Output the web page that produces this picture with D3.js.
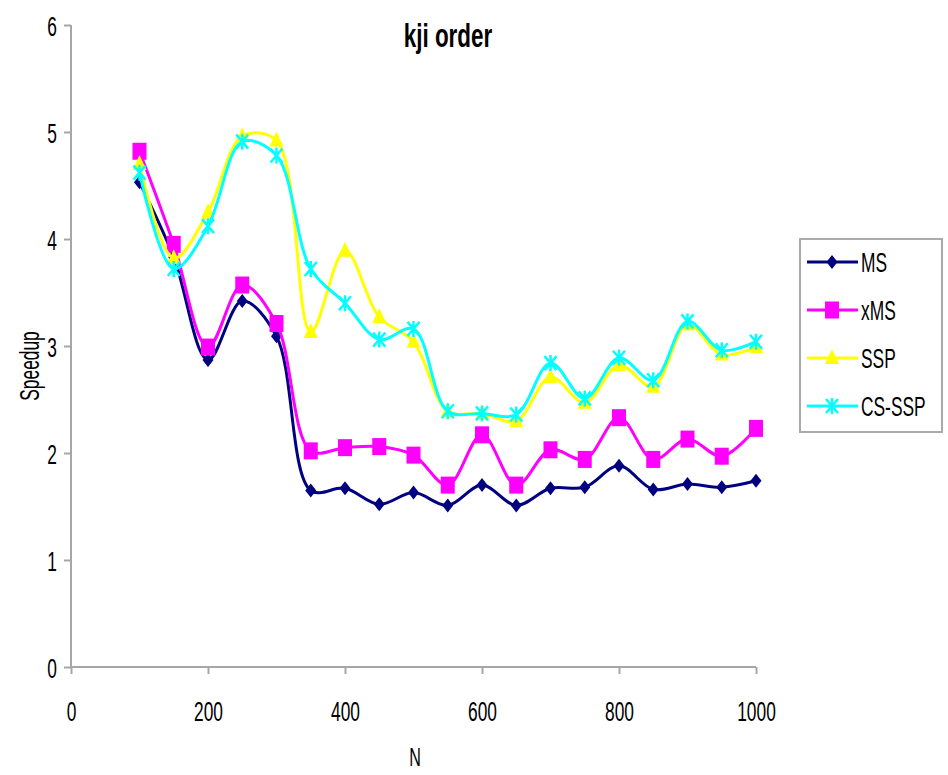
<!DOCTYPE html>
<html><head><meta charset="utf-8">
<script src="https://cdn.jsdelivr.net/npm/d3@7"></script>
<style>body{margin:0;background:#fff}svg{display:block}</style>
</head><body>
<svg id="c" width="948" height="775"></svg>
<script>
const N = [100,150,200,250,300,350,400,450,500,550,600,650,700,750,800,850,900,950,1000];
const MS   = [4.53,3.83,2.87,3.42,3.09,1.65,1.67,1.52,1.63,1.51,1.70,1.51,1.67,1.68,1.88,1.66,1.71,1.68,1.74];
const xMS  = [4.82,3.95,2.99,3.57,3.21,2.02,2.05,2.06,1.98,1.70,2.17,1.70,2.03,1.94,2.33,1.94,2.13,1.97,2.23];
const SSP  = [4.70,3.82,4.25,4.96,4.92,3.13,3.89,3.27,3.04,2.39,2.37,2.30,2.71,2.47,2.82,2.62,3.20,2.92,2.99];
const CSSSP= [4.62,3.72,4.12,4.91,4.78,3.72,3.40,3.06,3.16,2.39,2.37,2.36,2.84,2.51,2.89,2.68,3.23,2.96,3.04];
const seriesNames = ["MS","xMS","SSP","CS-SSP"];
const xTicks = [0,200,400,600,800,1000];
const yTicks = [0,1,2,3,4,5,6];
const title = "kji order";
const xTitle = "N";
const yTitle = "Speedup";

const series = [
  {name: seriesNames[0], values: MS,    color: "#000080", marker: "diamond"},
  {name: seriesNames[1], values: xMS,   color: "#FF00FF", marker: "square"},
  {name: seriesNames[2], values: SSP,   color: "#FFFF00", marker: "triangle"},
  {name: seriesNames[3], values: CSSSP, color: "#00FFFF", marker: "star"}
];

const svg = d3.select("#c");
const x = d3.scaleLinear().domain([0,1000]).range([71,756]);
const y = d3.scaleLinear().domain([0,6]).range([667,25]);
const FONT = "'Liberation Sans', Arial, sans-serif";
const SX = 0.62;
const axisCol = "#a6a6a6";

function txt(g, str, tx, ty, size, anchor, bold, sx) {
  return g.append("text")
    .attr("transform", `translate(${tx},${ty}) scale(${sx||SX},1)`)
    .attr("text-anchor", anchor)
    .attr("font-family", FONT)
    .attr("font-size", size)
    .attr("font-weight", bold ? "bold" : "normal")
    .attr("fill", "#000")
    .text(str);
}

// axes
const yAxis = svg.append("g").attr("transform", `translate(${x(0)},0)`)
  .call(d3.axisLeft(y).tickValues(yTicks).tickSize(7).tickFormat(d3.format("d")));
yAxis.select(".domain").attr("stroke", axisCol).attr("stroke-width", 2).attr("d", `M0,${y(6)}V${y(0)}`);
yAxis.selectAll(".tick line").attr("stroke", axisCol).attr("stroke-width", 2);
yAxis.selectAll(".tick text").attr("x", null).attr("dy", null)
  .attr("transform", "translate(-14,10) scale(" + SX + ",1)")
  .attr("font-family", FONT).attr("font-size", 28).attr("fill", "#000").attr("text-anchor", "end");

const xAxis = svg.append("g").attr("transform", `translate(0,${y(0)})`)
  .call(d3.axisBottom(x).tickValues(xTicks).tickSize(7).tickFormat(d3.format("d")));
xAxis.select(".domain").attr("stroke", axisCol).attr("stroke-width", 2).attr("d", `M${x(0)},0H${x(1000)}`);
xAxis.selectAll(".tick line").attr("stroke", axisCol).attr("stroke-width", 2);
xAxis.selectAll(".tick text").attr("y", null).attr("dy", null)
  .attr("transform", "translate(0,54) scale(" + SX + ",1)")
  .attr("font-family", FONT).attr("font-size", 28).attr("fill", "#000").attr("text-anchor", "middle");

// titles
txt(svg, title, 448, 47, 34, "middle", true, 0.66);
txt(svg, xTitle, 415, 766, 26, "middle", false);
svg.append("text")
  .attr("transform", `translate(39,366) rotate(-90) scale(${SX},1)`)
  .attr("text-anchor", "middle").attr("font-family", FONT).attr("font-size", 28)
  .attr("fill", "#000").text(yTitle);

// markers
function drawMarker(g, type, cx, cy, color) {
  if (type === "diamond") {
    g.append("path").attr("d", `M${cx},${cy-7}L${cx+5.5},${cy}L${cx},${cy+7}L${cx-5.5},${cy}Z`).attr("fill", color);
  } else if (type === "square") {
    g.append("rect").attr("x", cx-7).attr("y", cy-8.5).attr("width", 14).attr("height", 17).attr("fill", color);
  } else if (type === "triangle") {
    g.append("path").attr("d", `M${cx},${cy-9}L${cx+7},${cy+6}L${cx-7},${cy+6}Z`).attr("fill", color);
  } else if (type === "star") {
    g.append("path").attr("d", `M${cx-6},${cy-7}L${cx+6},${cy+7}M${cx+6},${cy-7}L${cx-6},${cy+7}M${cx},${cy-8}L${cx},${cy+8}`)
      .attr("stroke", color).attr("stroke-width", 2.5).attr("fill", "none");
  }
}

const line = d3.line().x((d,i) => x(N[i])).y(d => y(d)).curve(d3.curveCatmullRom.alpha(0.5));
const plot = svg.append("g");
series.forEach(s => {
  const g = plot.append("g");
  g.append("path").datum(s.values).attr("d", line)
    .attr("fill", "none").attr("stroke", s.color).attr("stroke-width", 3);
  s.values.forEach((v,i) => drawMarker(g, s.marker, x(N[i]), y(v), s.color));
});

// legend
const lg = svg.append("g");
lg.append("rect").attr("x", 800).attr("y", 239).attr("width", 142).attr("height", 193)
  .attr("fill", "#fff").attr("stroke", "#aaa").attr("stroke-width", 2);
series.forEach((s,i) => {
  const ly = 262 + i*48;
  lg.append("line").attr("x1", 807).attr("x2", 858).attr("y1", ly).attr("y2", ly)
    .attr("stroke", s.color).attr("stroke-width", 3);
  drawMarker(lg, s.marker, 832, ly, s.color);
  txt(lg, s.name, 861, ly + 10, 28, "start", false);
});
</script>
</body></html>
